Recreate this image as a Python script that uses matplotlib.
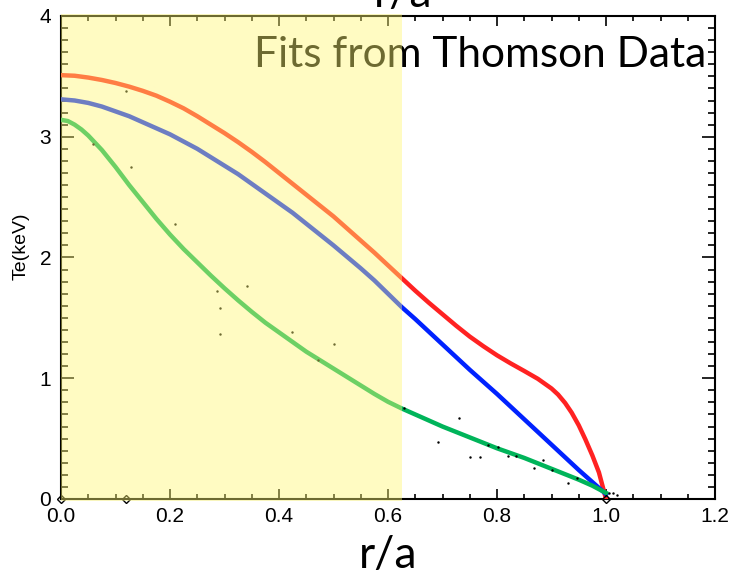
import matplotlib.pyplot as plt
from matplotlib.patches import Rectangle
from matplotlib.ticker import MultipleLocator

# fitted Te profiles (r/a, keV)
r_red = [0.0, 0.025, 0.05, 0.075, 0.1, 0.125, 0.15, 0.175, 0.2, 0.225, 0.25, 0.275, 0.3,
         0.325, 0.35, 0.375, 0.4, 0.425, 0.45, 0.475, 0.5, 0.525, 0.55, 0.575, 0.6, 0.625,
         0.65, 0.675, 0.7, 0.725, 0.75, 0.775, 0.8, 0.825, 0.85, 0.875, 0.9, 0.912, 0.925,
         0.937, 0.95, 0.962, 0.975, 0.987, 1.0]
te_red = [3.51, 3.505, 3.49, 3.47, 3.445, 3.415, 3.38, 3.34, 3.29, 3.235, 3.17, 3.10, 3.03,
          2.955, 2.875, 2.79, 2.70, 2.61, 2.52, 2.43, 2.34, 2.24, 2.14, 2.04, 1.935, 1.83,
          1.725, 1.625, 1.53, 1.435, 1.345, 1.265, 1.19, 1.123, 1.06, 0.995, 0.915, 0.865, 0.795,
          0.715, 0.61, 0.495, 0.36, 0.22, 0.0]

r_blue = [0.0, 0.025, 0.05, 0.075, 0.1, 0.125, 0.15, 0.175, 0.2, 0.225, 0.25, 0.275, 0.3,
          0.325, 0.35, 0.375, 0.4, 0.425, 0.45, 0.475, 0.5, 0.525, 0.55, 0.575, 0.6, 0.625,
          0.65, 0.7, 0.75, 0.8, 0.85, 0.9, 0.95, 1.0]
te_blue = [3.31, 3.30, 3.28, 3.25, 3.21, 3.17, 3.12, 3.07, 3.02, 2.96, 2.90, 2.83, 2.76,
           2.69, 2.61, 2.53, 2.45, 2.37, 2.28, 2.19, 2.10, 2.005, 1.91, 1.81, 1.70, 1.59,
           1.49, 1.28, 1.07, 0.87, 0.66, 0.45, 0.24, 0.04]

r_green = [0.0, 0.0125, 0.025, 0.0375, 0.05, 0.075, 0.1, 0.125, 0.15, 0.175, 0.2, 0.225,
           0.25, 0.275, 0.3, 0.325, 0.35, 0.375, 0.4, 0.425, 0.45, 0.475, 0.5, 0.525, 0.55,
           0.575, 0.6, 0.625, 0.65, 0.675, 0.7, 0.725, 0.75, 0.775, 0.8, 0.825, 0.85, 0.875,
           0.9, 0.925, 0.95, 0.975, 1.0]
te_green = [3.14, 3.13, 3.10, 3.06, 3.01, 2.89, 2.75, 2.60, 2.46, 2.32, 2.19, 2.07,
            1.96, 1.85, 1.745, 1.645, 1.55, 1.46, 1.38, 1.30, 1.22, 1.15, 1.08, 1.01, 0.94,
            0.87, 0.805, 0.75, 0.70, 0.65, 0.60, 0.555, 0.51, 0.465, 0.42, 0.38, 0.34, 0.295,
            0.25, 0.205, 0.16, 0.11, 0.05]

# Thomson points
r_ts = [0.059, 0.119, 0.128, 0.209, 0.286, 0.292, 0.292, 0.341, 0.424, 0.472, 0.5, 0.63,
        0.692, 0.731, 0.751, 0.768, 0.784, 0.802, 0.821, 0.835, 0.868, 0.885, 0.90,
        0.931, 0.947, 1.006, 1.013, 1.021]
te_ts = [2.94, 3.38, 2.75, 2.28, 1.72, 1.58, 1.37, 1.76, 1.38, 1.15, 1.28, 0.75,
         0.47, 0.67, 0.35, 0.35, 0.45, 0.43, 0.36, 0.36, 0.26, 0.32, 0.24,
         0.13, 0.17, 0.05, 0.05, 0.03]
r_zero = [0.0, 0.12, 1.0]
te_zero = [0.0, 0.0, 0.0]

plt.rcParams['font.family'] = ['Liberation Sans', 'DejaVu Sans']

fig = plt.figure(figsize=(7.35, 5.75), dpi=100)
ax = fig.add_axes([0.083, 0.1322, 0.8898, 0.84])

ax.plot(r_red, te_red, color='#ff2222', lw=3.2, solid_joinstyle='round', zorder=3)
ax.plot(r_blue, te_blue, color='#0022ff', lw=3.2, solid_joinstyle='round', zorder=3)
ax.plot(r_green, te_green, color='#00b45a', lw=3.2, solid_joinstyle='round', zorder=3)
ax.plot(r_ts, te_ts, 'k.', ms=1.5, zorder=4)
ax.plot(r_zero, te_zero, 'D', ms=4, mfc='none', mec='k', mew=1, clip_on=False, zorder=5)

ax.set_xlim(0, 1.2)
ax.set_ylim(0, 4)
ax.xaxis.set_major_locator(MultipleLocator(0.2))
ax.xaxis.set_minor_locator(MultipleLocator(0.05))
ax.yaxis.set_major_locator(MultipleLocator(1))
ax.yaxis.set_minor_locator(MultipleLocator(0.1))
ax.xaxis.set_major_formatter(plt.FormatStrFormatter('%.1f'))
ax.tick_params(which='both', direction='in', top=True, right=True, width=1.2, labelsize=15)
ax.tick_params(axis='x', which='major', length=7, pad=6)
ax.tick_params(axis='x', which='minor', length=3.3)
ax.tick_params(axis='y', which='major', length=9.5, pad=7)
ax.tick_params(axis='y', which='minor', length=5)
for s in ax.spines.values():
    s.set_linewidth(1.5)

ax.set_ylabel('Te(keV)', fontsize=14)
ax.yaxis.set_label_coords(-0.048, 0.524)
ax.set_xlabel('r/a', fontsize=32, family=['Lato', 'DejaVu Sans'], va='center')
ax.xaxis.set_label_coords(0.5, -0.116)

# title sits above the frame, only its lower part is on the page
fig.text(403 / 735, 1 - 7 / 575, 'r/a', fontsize=32, family=['Lato', 'DejaVu Sans'],
         ha='center', va='baseline')

ax.text(0.986, 0.894, 'Fits from Thomson Data', transform=ax.transAxes, ha='right',
        va='baseline', fontsize=30.5, family=['Lato', 'DejaVu Sans'], zorder=6)

# translucent highlight over the core region, drawn over everything
band = Rectangle((0, -0.02), 0.625, 4.04, transform=ax.transData, facecolor=(1.0, 0.97, 0.45),
                 alpha=0.43, edgecolor='none', clip_on=False, zorder=20)
ax.add_patch(band)

fig.savefig('out.png', dpi=100)
